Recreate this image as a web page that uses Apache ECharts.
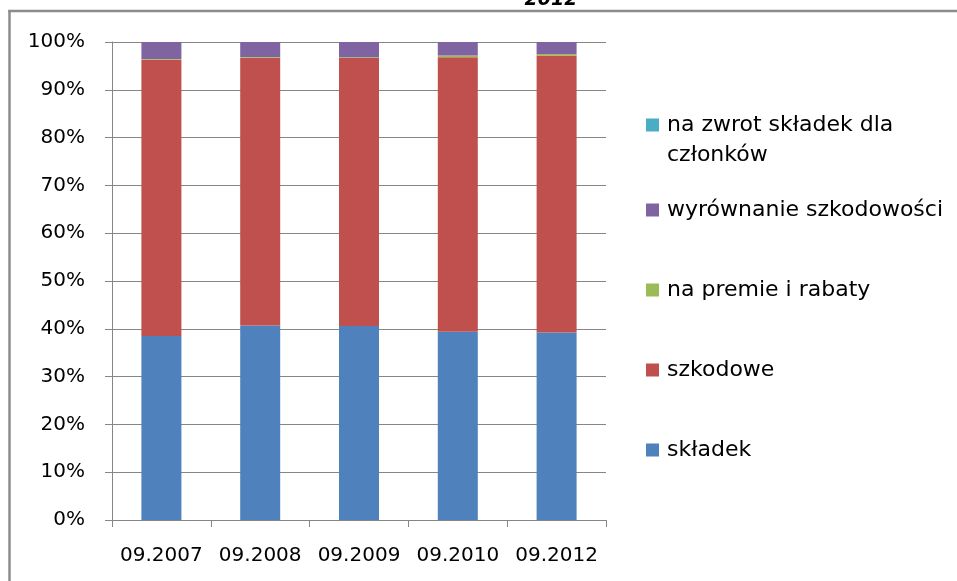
<!DOCTYPE html>
<html>
<head>
<meta charset="utf-8">
<style>
  html, body { margin: 0; padding: 0; background: #fff; overflow: hidden; }
  #chart { width: 957px; height: 581px; }
</style>
<script src="https://cdn.jsdelivr.net/npm/echarts@6/dist/echarts.min.js"></script>
</head>
<body>
<div id="chart"></div>
<script>
// Periods on the category axis
const categories = ['09.2007', '09.2008', '09.2009', '09.2010', '09.2012'];

// Share of each reserve type, in percent of the total (stacked to 100%)
const skladek = [38.5, 40.7, 40.6, 39.4, 39.2];
const szkodowe = [57.8, 56.0, 56.05, 57.4, 58.0];
const premieRabaty = [0.15, 0.15, 0.15, 0.4, 0.3];
const wyrownanie = [3.55, 3.15, 3.2, 2.8, 2.5];
const zwrotSkladek = [0, 0, 0, 0, 0];

// Y axis tick labels (every 10%)
const yTicks = ['0%', '10%', '20%', '30%', '40%', '50%', '60%', '70%', '80%', '90%', '100%'];

const FONT = 'DejaVu Sans';

const seriesDefs = [
  { name: 'składek', data: skladek, color: '#4F81BD' },
  { name: 'szkodowe', data: szkodowe, color: '#C0504D' },
  { name: 'na premie i rabaty', data: premieRabaty, color: '#9BBB59' },
  { name: 'wyrównanie szkodowości', data: wyrownanie, color: '#8064A2' },
  { name: 'na zwrot składek dla członków', data: zwrotSkladek, color: '#4BACC6' }
];

// One legend block per entry so the entries keep their even vertical spacing
const legendTops = {
  'na zwrot składek dla członków': 80,
  'wyrównanie szkodowości': 195,
  'na premie i rabaty': 275,
  'szkodowe': 355,
  'składek': 435
};

const legends = seriesDefs.slice().reverse().map(s => {
  const wrapped = s.name === 'na zwrot składek dla członków';
  return {
    data: [s.name],
    orient: 'vertical',
    left: 646,
    top: legendTops[s.name],
    padding: 0,
    itemWidth: 13,
    itemHeight: 13,
    icon: 'rect',
    selectedMode: false,
    // the long name wraps; an empty leading line keeps the icon beside its first line
    formatter: wrapped ? '\nna zwrot składek dla\nczłonków' : '{name}',
    textStyle: {
      fontFamily: FONT,
      fontSize: 22,
      color: '#000',
      lineHeight: 30,
      padding: [0, 0, 0, 3]
    }
  };
});

const chart = echarts.init(document.getElementById('chart'), null, { renderer: 'canvas' });

chart.setOption({
  backgroundColor: '#fff',
  animation: false,
  graphic: [
    {
      // left edge of the chart frame
      type: 'line',
      shape: { x1: 9.5, y1: 10, x2: 9.5, y2: 581 },
      style: { stroke: '#8c8c8c', lineWidth: 2.5 },
      silent: true
    },
    {
      // top edge of the chart frame
      type: 'line',
      shape: { x1: 8.25, y1: 11, x2: 957, y2: 11 },
      style: { stroke: '#8c8c8c', lineWidth: 2.5 },
      silent: true
    },
    {
      type: 'text',
      x: 551,
      y: 10,
      style: {
        text: '2012',
        fontFamily: FONT,
        fontSize: 19,
        fontWeight: 'bold',
        fontStyle: 'italic',
        fill: '#000',
        align: 'center',
        verticalAlign: 'bottom'
      },
      silent: true
    }
  ],
  legend: legends,
  grid: {
    left: 112,
    right: 351,
    top: 42,
    bottom: 61,
    containLabel: false
  },
  xAxis: {
    type: 'category',
    data: categories,
    axisLine: { show: true, lineStyle: { color: '#868686', width: 1 } },
    axisTick: { show: true, alignWithLabel: false, length: 7, lineStyle: { color: '#868686' } },
    axisLabel: {
      fontFamily: FONT,
      fontSize: 20,
      color: '#000',
      margin: 26,
      interval: 0
    },
    splitLine: { show: false }
  },
  yAxis: {
    type: 'value',
    min: 0,
    max: 100,
    interval: 10,
    axisLine: { show: true, lineStyle: { color: '#868686', width: 1 } },
    axisTick: { show: true, length: 7, lineStyle: { color: '#868686' } },
    axisLabel: {
      fontFamily: FONT,
      fontSize: 20,
      color: '#000',
      margin: 27,
      formatter: v => yTicks[Math.round(v / 10)]
    },
    splitLine: { show: true, lineStyle: { color: '#868686', width: 1 } }
  },
  series: seriesDefs.map(s => ({
    name: s.name,
    type: 'bar',
    stack: 'total',
    barWidth: 40,
    data: s.data,
    itemStyle: { color: s.color },
    emphasis: { disabled: true }
  }))
});
</script>
</body>
</html>
